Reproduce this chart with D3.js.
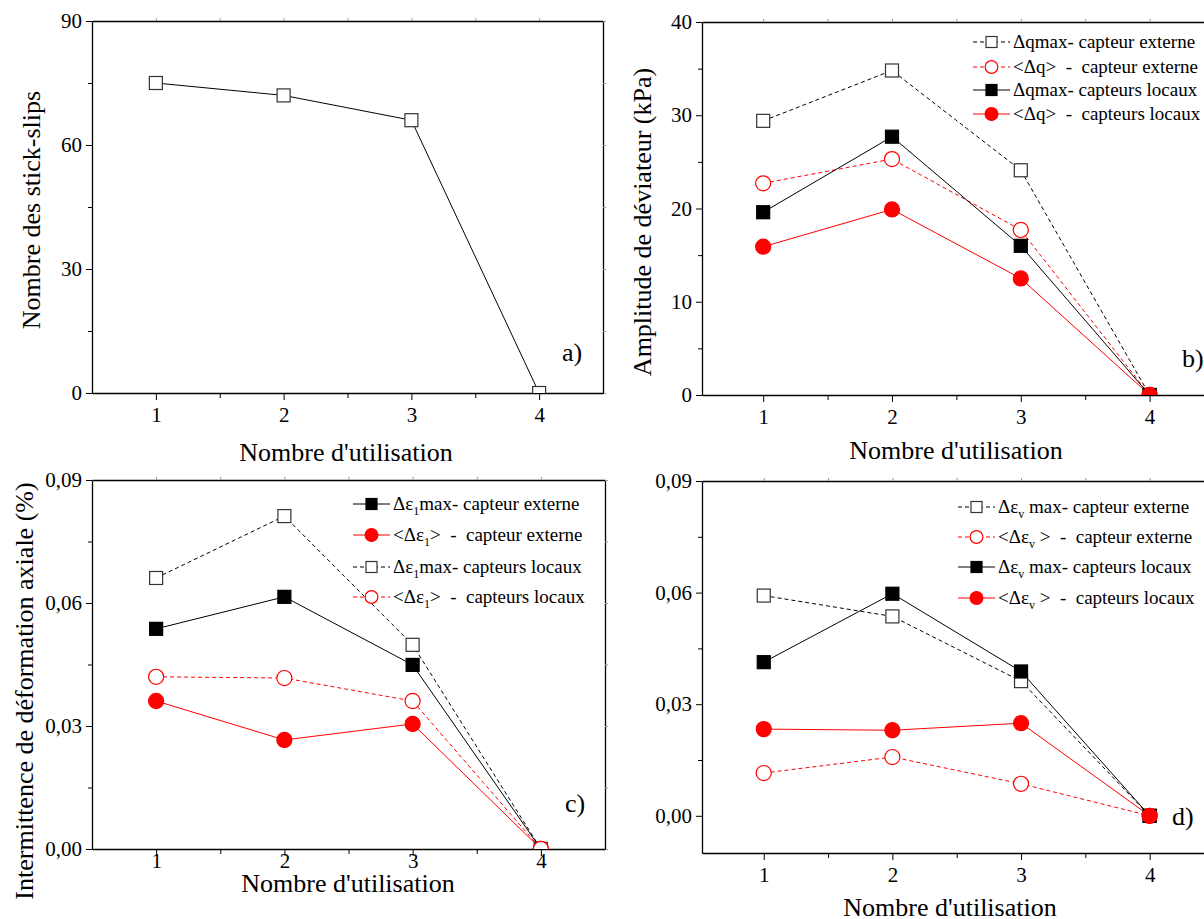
<!DOCTYPE html>
<html><head><meta charset="utf-8">
<script src="https://cdn.jsdelivr.net/npm/d3@7"></script>
<style>
body{margin:0;background:#fff}
svg text, svg tspan{font-family:"Liberation Serif","Times New Roman","DejaVu Serif",serif !important;fill:#000}
</style>
</head><body><svg id="c" width="1204" height="919" font-family="Liberation Serif, serif"></svg>
<script>
// ---------- data ----------
const usages = [1, 2, 3, 4];
const xMinorTicks = [1.5, 2.5, 3.5];

// a) number of stick-slips
const stickSlips = [75, 72, 66, 0];
const ticksA = [0, 30, 60, 90];
const minorA = [15, 45, 75];

// b) deviator amplitude (kPa)
const dqMaxExt  = [29.4, 34.8, 24.1, 0];
const dqMeanExt = [22.7, 25.3, 17.7, 0];
const dqMaxLoc  = [19.6, 27.7, 16.0, 0];
const dqMeanLoc = [15.9, 19.9, 12.5, 0];
const ticksB = [0, 10, 20, 30, 40];
const minorB = [5, 15, 25, 35];

// c) axial strain intermittence (%)
const de1MaxExt  = [0.0537, 0.0615, 0.0449, 0];
const de1MeanExt = [0.0361, 0.0266, 0.0305, 0];
const de1MaxLoc  = [0.0661, 0.0812, 0.0498, 0];
const de1MeanLoc = [0.0420, 0.0417, 0.0361, 0];
const ticksC = [0, 0.03, 0.06, 0.09];
const minorC = [0.015, 0.045, 0.075];

// d) volumetric strain amplitude (%)
const devMaxExt  = [0.0592, 0.0536, 0.0362, 0];
const devMeanExt = [0.0115, 0.0158, 0.0086, 0];
const devMaxLoc  = [0.0413, 0.0597, 0.0388, 0];
const devMeanLoc = [0.0233, 0.0230, 0.0249, 0];
const ticksD = [0, 0.03, 0.06, 0.09];
const minorD = [0.015, 0.045, 0.075];

const xTitle = "Nombre d'utilisation";
const yTitles = ["Nombre des stick-slips", "Amplitude de déviateur (kPa)",
  "Intermittence de déformation axiale (%)", "Amplitude de déformation volumique (%)"];
const panelLabels = ["a)", "b)", "c)", "d)"];

// legend labels: arrays of [text, isSubscript]
const legendB = [
  [["Δqmax- capteur externe", 0]],
  [["<Δq>  -  capteur externe", 0]],
  [["Δqmax- capteurs locaux", 0]],
  [["<Δq>  -  capteurs locaux", 0]]
];
const legendC = [
  [["Δε", 0], ["1", 1], ["max- capteur externe", 0]],
  [["<Δε", 0], ["1", 1], [">  -  capteur externe", 0]],
  [["Δε", 0], ["1", 1], ["max- capteurs locaux", 0]],
  [["<Δε", 0], ["1", 1], [">  -  capteurs locaux", 0]]
];
const legendD = [
  [["Δε", 0], ["v", 1], [" max- capteur externe", 0]],
  [["<Δε", 0], ["v", 1], [" >  -  capteur externe", 0]],
  [["Δε", 0], ["v", 1], [" max- capteurs locaux", 0]],
  [["<Δε", 0], ["v", 1], [" >  -  capteurs locaux", 0]]
];

// ---------- drawing ----------
const FONT = "Liberation Serif, Times New Roman, serif";
const svg = d3.select("#c");
const RED = "#ff0000";
const styles = {
  openSqDash:  {color: "#000", dash: "4,3", marker: "square", filled: false},
  openCirDash: {color: RED, dash: "4,3", marker: "circle", filled: false},
  fillSq:      {color: "#000", dash: null, marker: "square", filled: true},
  fillCir:     {color: RED, dash: null, marker: "circle", filled: true},
  openSqSolid: {color: "#000", dash: null, marker: "square", filled: false}
};
const commaFmt = v => d3.format(".2f")(v).replace(".", ",");

function drawMarker(g, cx, cy, st, size) {
  const fill = st.filled ? st.color : "#fff";
  if (st.marker === "square") {
    g.append("rect").attr("x", cx - size / 2).attr("y", cy - size / 2)
      .attr("width", size).attr("height", size)
      .attr("fill", fill).attr("stroke", st.filled ? st.color : "#333").attr("stroke-width", 1.2);
  } else {
    g.append("circle").attr("cx", cx).attr("cy", cy).attr("r", size * 0.58)
      .attr("fill", fill).attr("stroke", st.color).attr("stroke-width", 1.2);
  }
}

let clipId = 0;
function panel(cfg) {
  const g = svg.append("g");
  const x = d3.scaleLinear().domain(cfg.xDomain).range([cfg.left, cfg.right]);
  const y = d3.scaleLinear().domain(cfg.yDomain).range([cfg.bottom, cfg.top]);

  // minor ticks
  g.append("g").attr("transform", `translate(0,${cfg.bottom})`)
    .call(d3.axisBottom(x).tickValues(xMinorTicks).tickSize(5).tickFormat(""))
    .call(a => a.select(".domain").remove());
  g.append("g").attr("transform", `translate(${cfg.left},0)`)
    .call(d3.axisLeft(y).tickValues(cfg.yMinor).tickSize(4).tickFormat(""))
    .call(a => a.select(".domain").remove());
  // mirrored small ticks top/right
  g.append("g").attr("transform", `translate(0,${cfg.top})`)
    .call(d3.axisTop(x).tickValues(usages.concat(xMinorTicks)).tickSize(3).tickFormat("").tickSizeOuter(0))
    .call(a => a.selectAll(".tick line").attr("stroke", "#999"))
    .call(a => a.select(".domain").attr("stroke", "#000").attr("stroke-width", 1.3));
  g.append("g").attr("transform", `translate(${cfg.right},0)`)
    .call(d3.axisRight(y).tickValues(cfg.yTicks.concat(cfg.yMinor)).tickSize(3).tickFormat("").tickSizeOuter(0))
    .call(a => a.selectAll(".tick line").attr("stroke", "#999"))
    .call(a => a.select(".domain").attr("stroke", "#000").attr("stroke-width", 1.3));

  // major axes
  g.append("g").attr("transform", `translate(0,${cfg.bottom})`)
    .call(d3.axisBottom(x).tickValues(usages).tickSize(7).tickPadding(cfg.xPad).tickSizeOuter(0).tickFormat(d3.format("d")))
    .attr("font-family", FONT)
    .call(a => a.select(".domain").attr("stroke-width", 1.3))
    .call(a => a.selectAll("text").attr("font-size", 21));
  g.append("g").attr("transform", `translate(${cfg.left},0)`)
    .call(d3.axisLeft(y).tickValues(cfg.yTicks).tickSize(6).tickPadding(4).tickSizeOuter(0).tickFormat(cfg.fmt))
    .attr("font-family", FONT)
    .call(a => a.select(".domain").attr("stroke-width", 1.3))
    .call(a => a.selectAll("text").attr("font-size", 21));

  // clip
  const id = "clip" + (clipId++);
  svg.append("clipPath").attr("id", id).append("rect")
    .attr("x", cfg.left).attr("y", cfg.top)
    .attr("width", cfg.right - cfg.left).attr("height", cfg.bottom - cfg.top);
  const plot = g.append("g").attr("clip-path", `url(#${id})`);

  const line = d3.line().x((d, i) => x(usages[i])).y(d => y(d));
  cfg.series.forEach(s => {
    plot.append("path").datum(s.values).attr("d", line)
      .attr("fill", "none").attr("stroke", s.style.color).attr("stroke-width", 1)
      .attr("stroke-dasharray", s.style.dash);
  });
  cfg.series.forEach(s => {
    s.values.forEach((v, i) => drawMarker(plot, x(usages[i]), y(v), s.style, 13));
  });

  // legend
  if (cfg.legend) {
    const L = cfg.legend;
    cfg.series.forEach((s, k) => {
      const cy = L.rows[k];
      g.append("line").attr("x1", L.x1).attr("x2", L.x2).attr("y1", cy).attr("y2", cy)
        .attr("stroke", s.style.color).attr("stroke-width", 1).attr("stroke-dasharray", s.style.dash);
      drawMarker(g, (L.x1 + L.x2) / 2, cy, s.style, 11);
      const t = g.append("text").attr("x", L.tx).attr("y", cy + 6).attr("font-size", 19)
        .attr("font-family", FONT).style("white-space", "pre");
      let shifted = false;
      L.labels[k].forEach(([txt, sub]) => {
        const ts = t.append("tspan").text(txt);
        if (sub) { ts.attr("dy", 5).attr("font-size", 12); shifted = true; }
        else if (shifted) { ts.attr("dy", -5); shifted = false; }
      });
    });
  }

  // titles
  g.append("text").attr("x", cfg.xt[0]).attr("y", cfg.xt[1]).attr("text-anchor", "middle")
    .attr("font-family", FONT).attr("font-size", 26).text(xTitle);
  const yt = g.append("text")
    .attr("transform", `translate(${cfg.yt[0]},${cfg.yt[1]}) rotate(-90)`)
    .attr("font-family", FONT)
    .attr("text-anchor", cfg.ytAnchor || "middle").attr("font-size", 26).text(cfg.ytitle);
  if (cfg.ytClip) {
    const cid = "clip" + (clipId++);
    svg.append("clipPath").attr("id", cid).append("rect")
      .attr("x", 0).attr("y", cfg.ytClip).attr("width", 1204).attr("height", 919);
    yt.attr("clip-path", `url(#${cid})`);
  }
  g.append("text").attr("x", cfg.lab[0]).attr("y", cfg.lab[1]).attr("font-family", FONT)
    .attr("font-size", 26).text(cfg.label);
}

panel({
  left: 92, right: 603, top: 21, bottom: 393, xDomain: [0.5, 4.5], yDomain: [0, 90],
  yTicks: ticksA, yMinor: minorA, fmt: d3.format("d"), xPad: 7,
  series: [{values: stickSlips, style: styles.openSqSolid}],
  xt: [346, 461], yt: [40, 210], ytitle: yTitles[0], lab: [562, 361], label: panelLabels[0]
});

panel({
  left: 702, right: 1214, top: 22, bottom: 395, xDomain: [0.525, 4.5], yDomain: [0, 40],
  yTicks: ticksB, yMinor: minorB, fmt: d3.format("d"), xPad: 7,
  series: [
    {values: dqMaxExt, style: styles.openSqDash},
    {values: dqMeanExt, style: styles.openCirDash},
    {values: dqMaxLoc, style: styles.fillSq},
    {values: dqMeanLoc, style: styles.fillCir}
  ],
  legend: {x1: 973, x2: 1010, tx: 1013, rows: [42, 67, 90, 114], labels: legendB},
  xt: [956, 459], yt: [651, 222], ytitle: yTitles[1], lab: [1182, 367], label: panelLabels[1]
});

panel({
  left: 92, right: 605, top: 480, bottom: 849, xDomain: [0.5, 4.5], yDomain: [0, 0.09],
  yTicks: ticksC, yMinor: minorC, fmt: commaFmt, xPad: -3,
  series: [
    {values: de1MaxExt, style: styles.fillSq},
    {values: de1MeanExt, style: styles.fillCir},
    {values: de1MaxLoc, style: styles.openSqDash},
    {values: de1MeanLoc, style: styles.openCirDash}
  ],
  legend: {x1: 353, x2: 390, tx: 393, rows: [504, 535, 567, 597], labels: legendC},
  xt: [348, 892], yt: [33, 691], ytitle: yTitles[2], lab: [565, 812], label: panelLabels[2]
});

panel({
  left: 702, right: 1214, top: 481, bottom: 853, xDomain: [0.52, 4.5], yDomain: [-0.01, 0.09],
  yTicks: ticksD, yMinor: minorD, fmt: commaFmt, xPad: 7,
  series: [
    {values: devMaxExt, style: styles.openSqDash},
    {values: devMeanExt, style: styles.openCirDash},
    {values: devMaxLoc, style: styles.fillSq},
    {values: devMeanLoc, style: styles.fillCir}
  ],
  legend: {x1: 958, x2: 995, tx: 998, rows: [507, 537, 567, 598], labels: legendD},
  xt: [950, 916], yt: [651, 916], ytAnchor: "start", ytClip: 468, ytitle: yTitles[3],
  lab: [1172, 825], label: panelLabels[3]
});
</script>
</body></html>
